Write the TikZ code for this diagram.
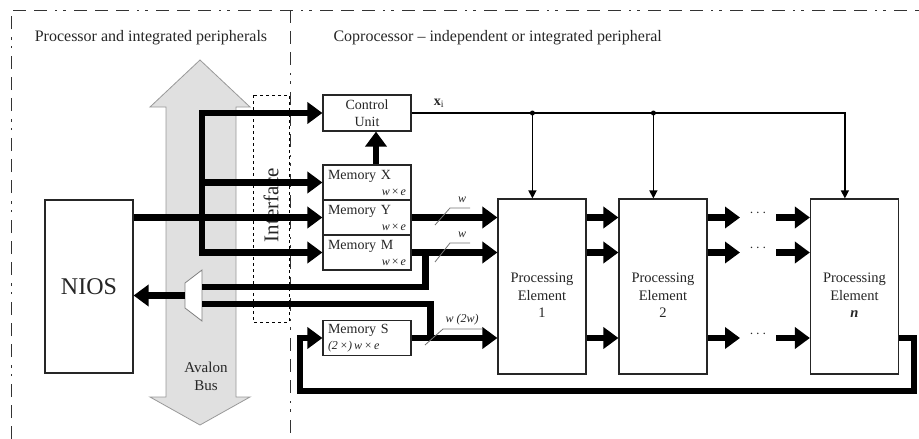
\documentclass[tikz,border=0pt]{standalone}
\usepackage{fontspec}
\setmainfont{Liberation Serif}
\usetikzlibrary{arrows.meta}

\begin{document}
\begin{tikzpicture}[x=1pt, y=-1pt, text=black!85,
    box/.style={draw=black!85, line width=1.2pt, fill=white, inner sep=0pt},
    membox/.style={box, minimum width=88, minimum height=35, text width=78, align=left,
      font=\fontsize{14}{16}\selectfont},
    pebox/.style={box, minimum width=88, minimum height=175},
    bus/.style={line width=6.5pt, -{Triangle[length=15pt,width=21pt]}},
    busline/.style={line width=6.5pt},
    sig/.style={line width=1.2pt, -{Triangle[length=8pt,width=8pt]}},
    tick/.style={draw=black!55, line width=0.8pt},
    wlabel/.style={font=\fontsize{12}{12}\selectfont\itshape},
    frame/.style={line width=1pt, black!80,
      dash pattern=on 13pt off 8pt on 13pt off 8pt on 13pt off 8pt on 2pt off 6pt on 3pt off 8pt}]
    \useasboundingbox (0,0) rectangle (919,439);

    % Draw outer frame and the processor/coprocessor divider
    \draw [frame] (11,439) -- (11,10) -- (919,10);
    \draw [frame] (290,10) -- (290,439);
    \node [font=\fontsize{16}{16}\selectfont] (proc) at (151,38) {Processor and integrated peripherals};
    \node [anchor=west, font=\fontsize{16}{16}\selectfont] (copro) at (330,38) {Coprocessor -- independent or integrated peripheral};

    % Draw Avalon bus (double arrow)
    \draw [draw=black!40, fill=black!12, line width=0.8pt]
      (200,60) -- (250,107) -- (236,107) -- (236,397) -- (250,397) -- (200,425)
      -- (150,397) -- (166,397) -- (166,107) -- (150,107) -- cycle;
    \node [align=center, font=\fontsize{15}{18}\selectfont] (avalon) at (206,376) {Avalon\\Bus};

    % Draw interface box
    \draw [dashed, line width=0.9pt] (253,95) rectangle (289,322);
    \node [rotate=90, font=\fontsize{21}{21}\selectfont] (iface) at (271,205) {Interface};

    % Draw NIOS, control unit and memories
    \node [box, minimum width=88, minimum height=173, font=\fontsize{24}{24}\selectfont] (nios) at (89,286.5) {NIOS};
    \node [box, minimum width=88, minimum height=36, align=center, font=\fontsize{14}{17}\selectfont] (cu) at (367,113) {Control\\Unit};
    \node [membox] (memx) at (367,182.5) {Memory X\\\makebox[78pt][r]{\fontsize{12}{12}\selectfont\textit{w}\,×\,\textit{e}}};
    \node [membox] (memy) at (367,217.5) {Memory Y\\\makebox[78pt][r]{\fontsize{12}{12}\selectfont\textit{w}\,×\,\textit{e}}};
    \node [membox] (memm) at (367,252.5) {Memory M\\\makebox[78pt][r]{\fontsize{12}{12}\selectfont\textit{w}\,×\,\textit{e}}};
    \node [membox] (mems) at (367,338) {Memory S\\{\fontsize{12}{12}\selectfont\textit{(2\,×)\,w\,×\,e}}};

    % Draw processing elements
    \node [pebox, label={[align=center, font=\fontsize{14.5}{17.5}\selectfont, yshift=-9pt]center:{Processing\\Element\\1}}] (pe1) at (542,286.5) {};
    \node [pebox, label={[align=center, font=\fontsize{14.5}{17.5}\selectfont, yshift=-9pt]center:{Processing\\Element\\2}}] (pe2) at (663,286.5) {};
    \node [pebox, label={[align=center, font=\fontsize{14.5}{17.5}\selectfont, yshift=-9pt]center:{Processing\\Element\\\textbf{\textit{n}}}}] (pen) at (854.5,286.5) {};

    % Draw bus from NIOS into the memories
    \coordinate (fork) at (202,0);
    \draw [busline, line cap=rect] (fork |- cu.west) -- (fork |- memm.west);
    \draw [bus] (fork |- cu.west) -- (cu.west);
    \draw [bus] (fork |- memx.west) -- (memx.west);
    \draw [bus] (fork |- memm.west) -- (memm.west);
    \draw [bus] (nios.east |- memy.west) -- (memy.west);
    \draw [bus] ([xshift=9pt]memx.north) -- ([xshift=9pt]cu.south);

    % Draw read-back multiplexer
    \draw [draw=black!50, fill=white, line width=0.8pt] (185,283) -- (202,270) -- (202,321) -- (185,308) -- cycle;
    \coordinate (mux) at (185,295.5);
    \coordinate (muxa) at (202,287);
    \coordinate (muxb) at (202,304);
    \draw [bus] (mux) -- (nios.east |- mux);
    \draw [busline] ([xshift=14pt]memm.east) |- (muxa);
    \draw [busline] ([xshift=19pt]mems.east) |- (muxb);

    % Draw memory outputs into the first element
    \draw [bus] (memy.east) -- (pe1.west |- memy.east);
    \draw [bus] (memm.east) -- (pe1.west |- memm.east);
    \draw [bus] (mems.east) -- (pe1.west |- mems.east);
    \draw [tick] (435,225) -- (450,208) -- (470,208);
    \node [wlabel] (wy) at (462,200) {w};
    \draw [tick] (435,262) -- (450,243) -- (470,243);
    \node [wlabel] (wm) at (462,235) {w};
    \draw [tick] (425,345) -- (443,329) -- (482,329);
    \node [wlabel] (ws) at (462,320) {w (2w)};

    % Draw chain between elements
    \coordinate (gapa) at (740,0);
    \coordinate (gapb) at (776,0);
    \foreach \r in {memy,memm,mems} {
      \draw [bus] (pe1.east |- \r.east) -- (pe2.west |- \r.east);
      \draw [bus] (pe2.east |- \r.east) -- (gapa |- \r.east);
      \draw [bus] (gapb |- \r.east) -- (pen.west |- \r.east);
      \path (gapa |- \r.east) -- node [yshift=4pt, font=\fontsize{14}{14}\selectfont] (dots\r) {$\cdots$} (gapb |- \r.east);
    }

    % Draw feedback from last element into memory S
    \coordinate (loopr) at (914,391);
    \coordinate (loopl) at (300,391);
    \draw [bus] (pen.east |- mems.east) -| (loopr) -- (loopl) |- (mems.west);

    % Draw control signal x_i to all elements
    \coordinate (tap1) at ([xshift=35pt]pe1.north west);
    \coordinate (tap2) at ([xshift=35pt]pe2.north west);
    \coordinate (tapn) at ([xshift=35pt]pen.north west);
    \draw [sig] (cu.east) -| (tapn);
    \draw [sig] (tap1 |- cu.east) -- (tap1);
    \draw [sig] (tap2 |- cu.east) -- (tap2);
    \fill (tap1 |- cu.east) circle (2.5);
    \fill (tap2 |- cu.east) circle (2.5);
    \node [font=\fontsize{14}{14}\selectfont] (xi) at (439,103) {\textbf{x}\textsubscript{i}};
\end{tikzpicture}
\end{document}
